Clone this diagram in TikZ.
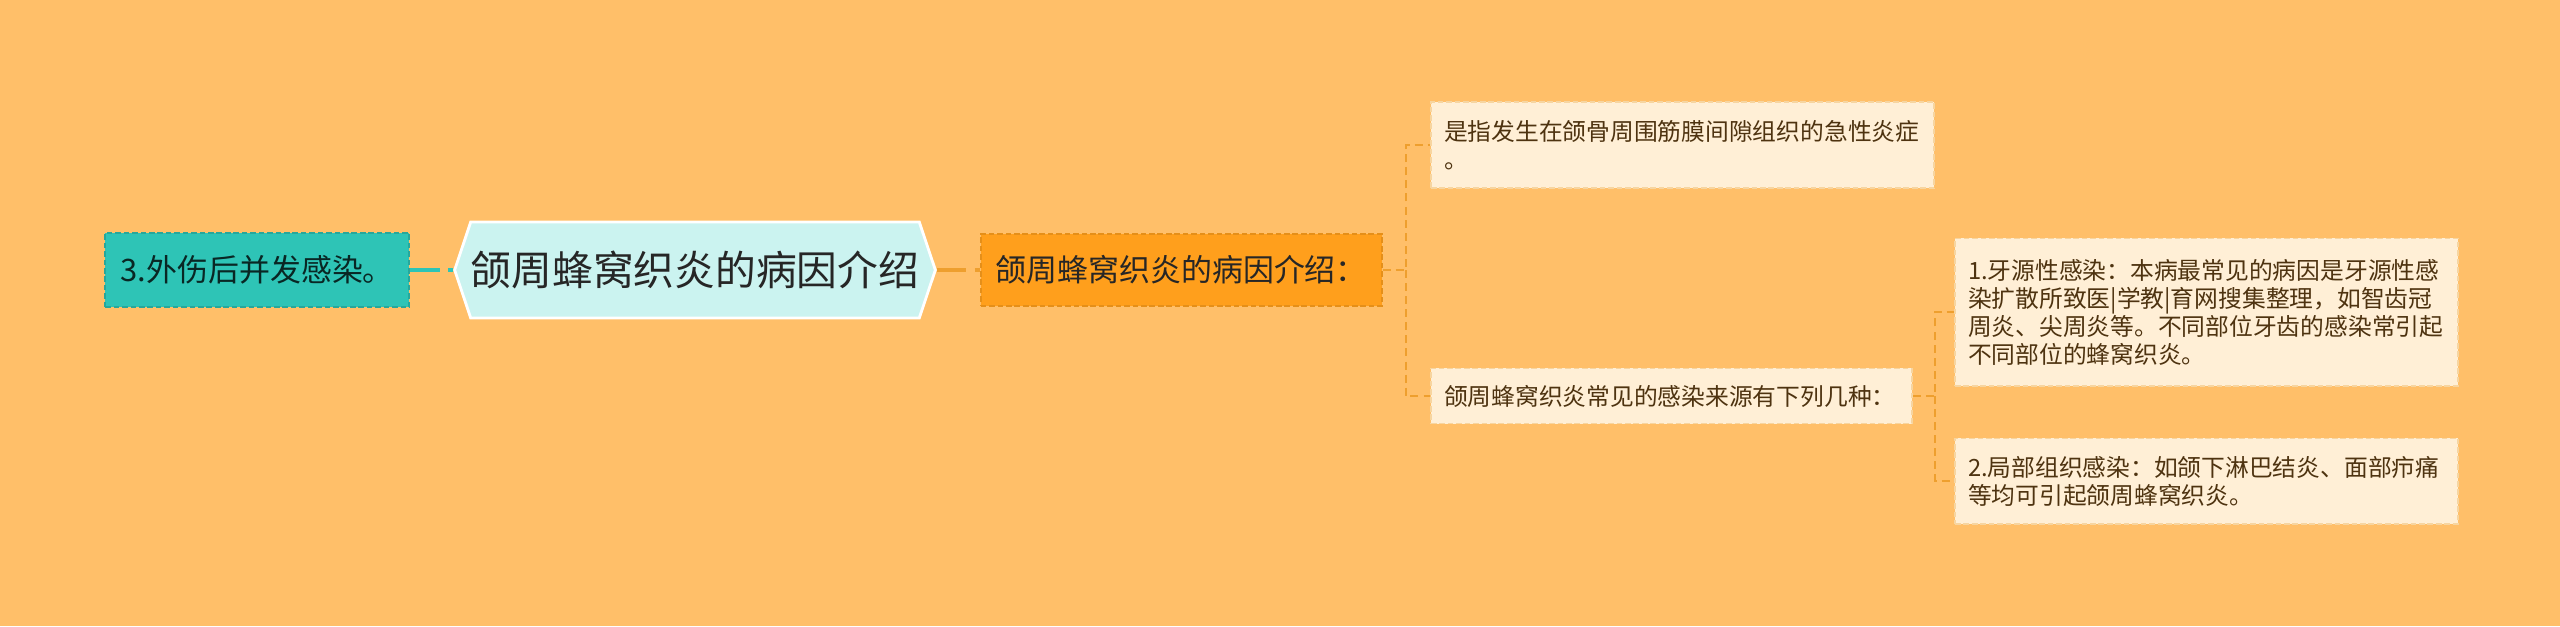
\documentclass[tikz,border=0pt]{standalone}
\usepackage{fontspec}
\setmainfont{Noto Sans CJK SC}
\usetikzlibrary{positioning,calc,shapes.symbols}
\definecolor{bgorange}{HTML}{FFBF69}
\definecolor{deeporange}{HTML}{FF9F1C}
\definecolor{tealfill}{HTML}{2EC4B6}
\definecolor{rootfill}{HTML}{CBF3F0}
\definecolor{leaffill}{HTML}{FFEFD6}
\definecolor{leafline}{HTML}{F7D5A0}
\definecolor{linkorange}{HTML}{EE9F2E}
\definecolor{leaftext}{HTML}{4E3310}

\begin{document}
\begin{tikzpicture}[x=0.025cm,y=-0.025cm,
    root node/.style={shape=signal,signal to=east and west,signal pointer angle=143,fill=rootfill,draw=white,line width=2pt,minimum width=11.575cm,minimum height=2.4cm,inner sep=0pt,text=black!85,font=\fontsize{29}{33}\selectfont},
    cause node/.style={fill=tealfill,draw=tealfill!85!black,line width=1.2pt,dash pattern=on 4pt off 2pt,minimum width=7.6cm,minimum height=1.85cm,inner sep=0pt,text=black!80!tealfill,font=\fontsize{22}{26}\selectfont},
    intro node/.style={fill=deeporange,draw=deeporange!90!black,line width=1.2pt,dash pattern=on 4pt off 2pt,minimum width=10.025cm,minimum height=1.8cm,inner sep=0pt,text=black!85,font=\fontsize{22}{26}\selectfont},
    leaf node/.style={fill=leaffill,draw=leafline,line width=1.4pt,dash pattern=on 4pt off 2pt,inner xsep=0.325cm,inner ysep=0pt,text width=11.925cm,align=left,anchor=west,text=leaftext,font=\fontsize{16.9}{19.9}\selectfont},
    main link/.style={line width=2.2pt,dash pattern=on 21pt off 6pt},
    leaf link/.style={linkorange,line width=1.6pt,dash pattern=on 5.7pt off 3.6pt}]

    \fill[bgorange] (0,0) rectangle (2560,626);
    \useasboundingbox (0,0) rectangle (2560,626);

    \node[root node] (root) at (695,270) {颌周蜂窝织炎的病因介绍};
    \node[cause node] (cause) [left=1.075cm of root] {3.外伤后并发感染。};
    \node[intro node] (intro) [right=1.075cm of root] {颌周蜂窝织炎的病因介绍：};

    \node[leaf node,minimum height=2.15cm] (def) at (1430,145) {是指发生在颌骨周围筋膜间隙组织的急性炎症\\。};
    \node[leaf node,minimum height=1.375cm,text width=11.375cm] (src) at (1430,396) {颌周蜂窝织炎常见的感染来源有下列几种：};
    \node[leaf node,minimum height=3.675cm] (odont) at (1954,312) {1.牙源性感染：本病最常见的病因是牙源性感\\染扩散所致医|学教|育网搜集整理，如智齿冠\\周炎、尖周炎等。不同部位牙齿的感染常引起\\不同部位的蜂窝织炎。};
    \node[leaf node,minimum height=2.125cm] (local) at (1954,481) {2.局部组织感染：如颌下淋巴结炎、面部疖痛\\等均可引起颌周蜂窝织炎。};

    \draw[main link,tealfill] (cause.east) -- (root.west);
    \draw[main link,linkorange] (root.east) -- (intro.west);

    \coordinate[right=0.575cm of intro.east] (fork a);
    \draw[leaf link] (intro.east) -- (fork a) |- (def.west);
    \draw[leaf link] (fork a) |- (src.west);

    \coordinate[right=0.55cm of src.east] (fork b);
    \draw[leaf link] (src.east) -- (fork b) |- (odont.west);
    \draw[leaf link] (fork b) |- (local.west);
\end{tikzpicture}
\end{document}
